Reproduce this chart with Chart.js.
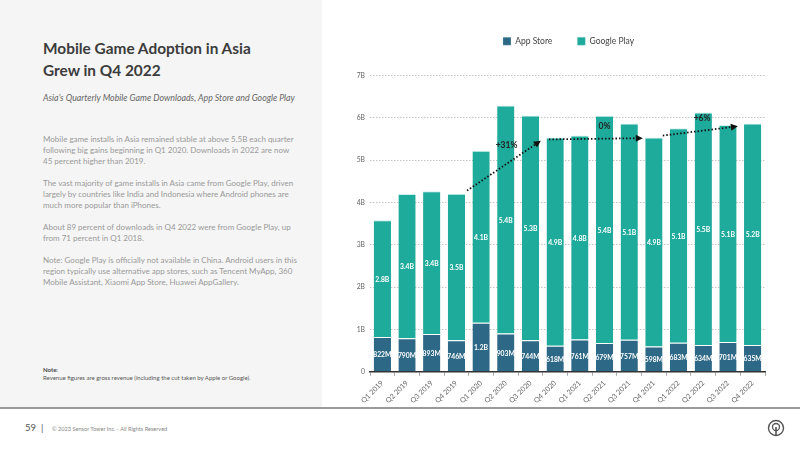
<!DOCTYPE html>
<html>
<head>
<meta charset="utf-8">
<script src="https://cdn.jsdelivr.net/npm/chart.js@4.4.0/dist/chart.umd.min.js"></script>
<style>
  body { margin: 0; width: 800px; height: 450px; background: #fff; font-family: "Source Sans Pro", Lato, sans-serif; overflow: hidden; position: relative; }
  .side { position: absolute; left: 0; top: 0; width: 322px; height: 407px; background: #f5f5f5; }
  h1 { position: absolute; left: 43px; top: 38px; margin: 0; font-size: 15.4px; line-height: 21.5px; color: #3c3c3c; font-weight: 700; }
  .sub { position: absolute; left: 43px; top: 92px; font-size: 8.8px; font-style: italic; color: #666; }
  .txt { position: absolute; left: 43px; top: 134px; white-space: nowrap; font-size: 8px; line-height: 11px; color: #999; }
  .txt p { margin: 0 0 11px 0; }
  .note { position: absolute; left: 43px; top: 366px; font-size: 6px; line-height: 7.5px; color: #555; }
  .note b { color: #444; }
  .rule { position: absolute; left: 0; top: 407px; width: 800px; height: 2px; background: #9a9a9a; }
  .page { position: absolute; left: 25px; top: 422px; font-size: 9.5px; color: #555; }
  .copy { position: absolute; left: 52px; top: 425px; font-size: 5.6px; color: #888; }
  .wrap { position: absolute; left: 340px; top: 12px; width: 440px; height: 396px; }
  .logo { position: absolute; left: 767px; top: 419px; }
</style>
</head>
<body>
<div class="side"></div>
<h1>Mobile Game Adoption in Asia<br>Grew in Q4 2022</h1>
<div class="sub">Asia’s Quarterly Mobile Game Downloads, App Store and Google Play</div>
<div class="txt">
  <p>Mobile game installs in Asia remained stable at above 5.5B each quarter<br>following big gains beginning in Q1 2020. Downloads in 2022 are now<br>45 percent higher than 2019.</p>
  <p>The vast majority of game installs in Asia came from Google Play, driven<br>largely by countries like India and Indonesia where Android phones are<br>much more popular than iPhones.</p>
  <p>About 89 percent of downloads in Q4 2022 were from Google Play, up<br>from 71 percent in Q1 2018.</p>
  <p>Note: Google Play is officially not available in China. Android users in this<br>region typically use alternative app stores, such as Tencent MyApp, 360<br>Mobile Assistant, Xiaomi App Store, Huawei AppGallery.</p>
</div>
<div class="note"><b>Note:</b><br>Revenue figures are gross revenue (including the cut taken by Apple or Google).</div>
<div class="rule"></div>
<div class="page">59 &nbsp;|</div>
<div class="copy">© 2023 Sensor Tower Inc. - All Rights Reserved</div>
<svg class="logo" width="18" height="18" viewBox="0 0 18 18">
  <circle cx="9" cy="9" r="7.5" fill="none" stroke="#555" stroke-width="1.4"/>
  <circle cx="9" cy="8" r="3.5" fill="none" stroke="#555" stroke-width="1.3"/>
  <line x1="9" y1="8" x2="9" y2="16.5" stroke="#555" stroke-width="1.6"/>
</svg>
<div class="wrap"><canvas id="c"></canvas></div>
<script>
const quarters = ["Q1 2019","Q2 2019","Q3 2019","Q4 2019","Q1 2020","Q2 2020","Q3 2020","Q4 2020",
                  "Q1 2021","Q2 2021","Q3 2021","Q4 2021","Q1 2022","Q2 2022","Q3 2022","Q4 2022"];
// downloads in billions
const appStore = [0.822,0.790,0.893,0.746,1.16,0.903,0.744,0.618,0.761,0.679,0.757,0.598,0.683,0.634,0.701,0.635];
const googlePlay = [2.76,3.41,3.37,3.46,4.06,5.39,5.31,4.92,4.82,5.37,5.11,4.94,5.07,5.49,5.13,5.23];
const yTicks = [0,1,2,3,4,5,6,7];
// growth arrows: [x index from, y from, x index to, y to, label, label x, label y]
const arrows = [
  [3.43, 4.28, 6.42, 5.46, "+31%", 5.03, 5.34],
  [6.75, 5.49, 10.55, 5.52, "0%", 9.0, 5.8],
  [11.36, 5.58, 14.4, 5.80, "+6%", 12.95, 5.99]
];

const fmt = v => v < 1 ? Math.round(v * 1000) + "M" : v.toFixed(1) + "B";

const barLabels = {
  id: "barLabels",
  afterDatasetsDraw(chart) {
    const ctx = chart.ctx;
    ctx.save();
    // faint watermark
    ctx.fillStyle = "rgba(255,255,255,0.10)";
    ctx.font = "bold 40px Lato, sans-serif";
    ctx.textAlign = "center";
    ctx.textBaseline = "middle";
    ctx.fillText("SensorTower", 590, 230);
    ctx.font = "bold 6.8px Lato, sans-serif";
    ctx.fillStyle = "#fff";
    chart.data.datasets.forEach((ds, di) => {
      chart.getDatasetMeta(di).data.forEach((bar, i) => {
        const mid = (bar.y + bar.base) / 2;
        ctx.fillText(fmt(ds.data[i]), bar.x, mid + 1);
      });
    });
    // arrows
    const xs = chart.scales.x, ys = chart.scales.y;
    const px = v => xs.getPixelForValue(0) + v * (xs.getPixelForValue(1) - xs.getPixelForValue(0));
    arrows.forEach(a => {
      const x1 = px(a[0]), y1 = ys.getPixelForValue(a[1]);
      const x2 = px(a[2]), y2 = ys.getPixelForValue(a[3]);
      const ang = Math.atan2(y2 - y1, x2 - x1);
      const hx = x2 - 7 * Math.cos(ang), hy = y2 - 7 * Math.sin(ang);
      ctx.strokeStyle = "#111";
      ctx.lineWidth = 1.8;
      ctx.setLineDash([1.5, 2]);
      ctx.beginPath();
      ctx.moveTo(x1, y1);
      ctx.lineTo(hx, hy);
      ctx.stroke();
      ctx.setLineDash([]);
      ctx.fillStyle = "#111";
      ctx.beginPath();
      ctx.moveTo(x2, y2);
      ctx.lineTo(hx + 3.5 * Math.sin(ang), hy - 3.5 * Math.cos(ang));
      ctx.lineTo(hx - 3.5 * Math.sin(ang), hy + 3.5 * Math.cos(ang));
      ctx.closePath();
      ctx.fill();
      ctx.font = "bold 8.5px Lato, sans-serif";
      ctx.fillStyle = "#222";
      ctx.fillText(a[4], px(a[5]), ys.getPixelForValue(a[6]));
    });
    ctx.restore();
  }
};

// legend sits higher than the plot, with a wide gap under it
const legendSpace = {
  id: "legendSpace",
  afterInit(chart) {
    const lg = chart.legend;
    const fit = lg.fit.bind(lg);
    lg.fit = function () { fit(); this.height += 20; };
  },
  afterUpdate(chart) {
    const lg = chart.legend;
    lg.left += 16; lg.right += 16;
    lg.legendHitBoxes.forEach(b => { b.left += 16; });
  }
};

new Chart(document.getElementById("c"), {
  type: "bar",
  data: {
    labels: quarters,
    datasets: [
      {
        label: "App Store",
        data: appStore,
        backgroundColor: "#2d6886",
        borderColor: "rgba(255,255,255,0.75)",
        borderWidth: { top: 1, left: 0, right: 0, bottom: 0 },
        borderSkipped: false,
        barPercentage: 0.7,
        categoryPercentage: 1
      },
      {
        label: "Google Play",
        data: googlePlay,
        backgroundColor: "#1fab9c",
        borderColor: "rgba(200,240,235,0.9)",
        borderWidth: { top: 1, left: 0, right: 0, bottom: 0 },
        borderSkipped: false,
        barPercentage: 0.7,
        categoryPercentage: 1
      }
    ]
  },
  options: {
    responsive: true,
    maintainAspectRatio: false,
    animation: false,
    layout: { padding: { top: 0, right: 15, bottom: 0, left: 0 } },
    plugins: {
      legend: {
        position: "top",
        labels: {
          boxWidth: 8, boxHeight: 8, padding: 25,
          color: "#444",
          font: { size: 8.5, family: "Lato, sans-serif" }
        }
      },
      tooltip: { enabled: false }
    },
    scales: {
      x: {
        stacked: true,
        grid: { display: true, drawOnChartArea: false, tickLength: 4, color: "#aaa" },
        border: { display: true, color: "#333", width: 1.5 },
        ticks: {
          minRotation: 45, maxRotation: 45,
          color: "#666",
          font: { size: 7.2, family: "Lato, sans-serif" }
        }
      },
      y: {
        stacked: true,
        min: 0, max: 7,
        afterFit: s => { s.width = 30; },
        afterBuildTicks: s => { s.ticks = yTicks.map(v => ({ value: v })); },
        border: { display: false, dash: [1.5, 1.5] },
        grid: { color: "#c4c4c4", lineWidth: 1, drawTicks: false },
        ticks: {
          padding: 5,
          color: "#666",
          font: { size: 6.8, family: "Lato, sans-serif" },
          callback: v => v === 0 ? "0" : v + "B"
        }
      }
    }
  },
  plugins: [barLabels, legendSpace]
});
</script>
</body>
</html>
